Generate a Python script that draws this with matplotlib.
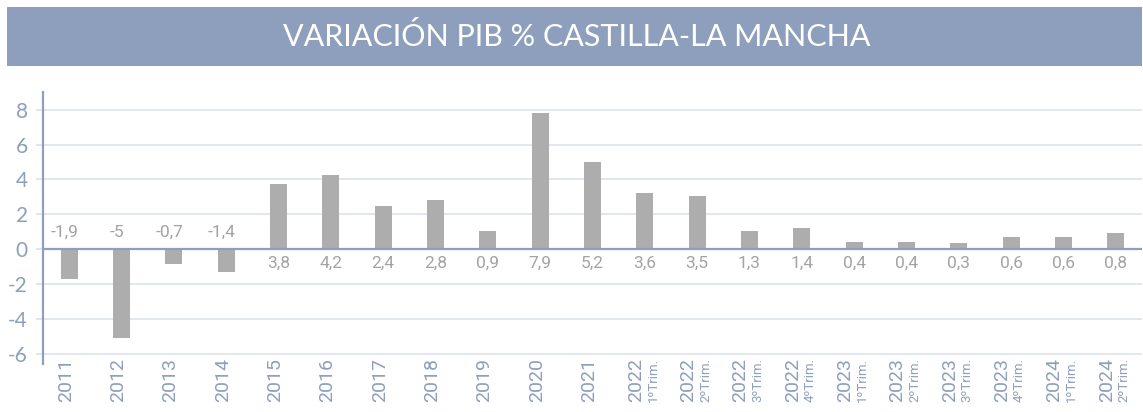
import matplotlib
matplotlib.use("Agg")
import matplotlib.pyplot as plt
from matplotlib.patches import Rectangle
from matplotlib.transforms import offset_copy

# ---- data ----
years = ["2011", "2012", "2013", "2014", "2015", "2016", "2017", "2018", "2019",
         "2020", "2021", "2022", "2022", "2022", "2022", "2023", "2023", "2023",
         "2023", "2024", "2024"]
quarters = ["", "", "", "", "", "", "", "", "", "", "",
            "1ºTrim.", "2ºTrim.", "3ºTrim.", "4ºTrim.",
            "1ºTrim.", "2ºTrim.", "3ºTrim.", "4ºTrim.",
            "1ºTrim.", "2ºTrim."]
bar_values = [-1.7, -5.1, -0.85, -1.3, 3.75, 4.25, 2.48, 2.83, 1.04, 7.84, 4.99,
              3.23, 3.06, 1.04, 1.21, 0.40, 0.40, 0.35, 0.69, 0.69, 0.92]
value_labels = ["-1,9", "-5", "-0,7", "-1,4", "3,8", "4,2", "2,4", "2,8", "0,9",
                "7,9", "5,2", "3,6", "3,5", "1,3", "1,4", "0,4", "0,4", "0,3",
                "0,6", "0,6", "0,8"]
yticks = [-6, -4, -2, 0, 2, 4, 6, 8]
title = "VARIACIÓN PIB % CASTILLA-LA MANCHA"

# ---- style ----
W, H = 1143, 412
BLUE = "#8d9fbd"
GRID = "#dbe1ec"
BAR = "#adadad"
LABEL = "#a3a3a3"

fig = plt.figure(figsize=(W / 100, H / 100), dpi=100)
fig.patch.set_facecolor("white")

# banner
fig.patches.append(Rectangle((7 / W, 1 - 66 / H), (1142 - 7) / W, (66 - 7) / H,
                             transform=fig.transFigure, facecolor=BLUE,
                             edgecolor="none", zorder=0))
fig.text(577 / W, 1 - 37 / H, title, ha="center", va="center", color="white",
         fontsize=22, family="Lato", fontweight="normal")

left, right = 43 / W, 1142 / W
bottom, top = 1 - 364 / H, 1 - 92.3 / H
ax = fig.add_axes([left, bottom, right - left, top - bottom])
ax.set_facecolor("none")

x = list(range(len(years)))
ax.bar(x, bar_values, width=0.32, color=BAR, zorder=3)
ax.set_xlim(-0.5, len(years) - 0.5)
ax.set_ylim(-6.6, 9.0)

ax.set_yticks(yticks)
ax.set_yticklabels([str(v) for v in yticks])
for t in ax.get_yticklabels():
    t.set_family("Lato")
ax.tick_params(axis="y", length=5, width=1.2, color=GRID, labelcolor=BLUE,
               labelsize=15, pad=6)
ax.set_xticks([])
ax.grid(axis="y", color=GRID, linewidth=1.2, zorder=0)
ax.set_axisbelow(True)
for s in ["top", "right", "bottom"]:
    ax.spines[s].set_visible(False)
ax.spines["left"].set_color(BLUE)
ax.spines["left"].set_linewidth(1.6)
ax.axhline(0, color=BLUE, linewidth=1.6, zorder=4)

trans = ax.get_xaxis_transform()
for i, (val, lab) in enumerate(zip(bar_values, value_labels)):
    dy = 12 if val < 0 else -10.5
    dx = -3 if val < 0 else 0
    ax.annotate(lab, (i, 0), xytext=(dx, dy), textcoords="offset points",
                ha="center", va="center", color=LABEL, fontsize=12.5,
                family="Roboto", zorder=5)

ylab = 0.022
for i, (yr, q) in enumerate(zip(years, quarters)):
    if q:
        ax.text(i, ylab, yr, transform=offset_copy(trans, fig=fig, x=-6.5, y=0, units="points"),
                rotation=90, ha="center", va="top", color=BLUE, fontsize=14,
                family="Roboto", clip_on=False)
        ax.text(i, ylab, q, transform=offset_copy(trans, fig=fig, x=6.0, y=0, units="points"),
                rotation=90, ha="center", va="top", color=BLUE, fontsize=9.5,
                family="Roboto", clip_on=False)
    else:
        ax.text(i, ylab, yr, transform=offset_copy(trans, fig=fig, x=-2.5, y=0, units="points"),
                rotation=90, ha="center", va="top", color=BLUE, fontsize=14,
                family="Roboto", clip_on=False)

fig.savefig("out.png", dpi=100)
